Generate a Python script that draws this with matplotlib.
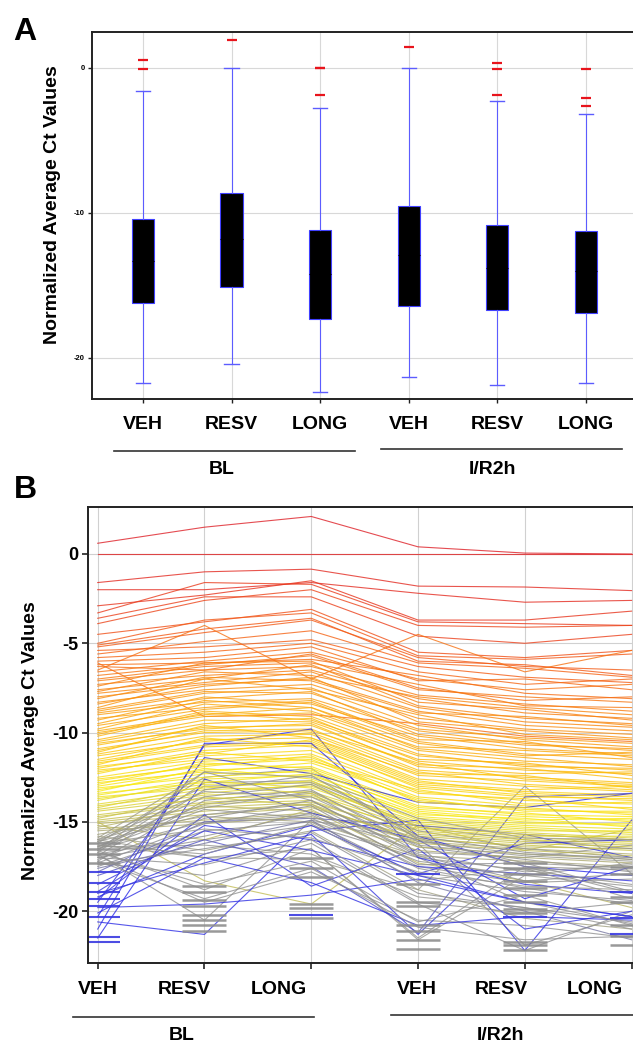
import matplotlib
matplotlib.use('Agg')
import matplotlib.pyplot as plt
from matplotlib.colors import LinearSegmentedColormap, Normalize
from matplotlib.lines import Line2D

plt.rcParams['font.family'] = ['Liberation Sans', 'DejaVu Sans']
plt.rcParams['font.weight'] = 'bold'

W, H = 633, 1044

# ---- data ----
groups = ['VEH', 'RESV', 'LONG', 'VEH', 'RESV', 'LONG']
conditions = ['BL', 'I/R2h']

# panel A box summaries
box_q3 = [-10.4, -8.6, -11.2, -9.5, -10.85, -11.25]
box_q1 = [-16.25, -15.1, -17.3, -16.4, -16.7, -16.9]
box_med = [-13.3, -11.8, -14.2, -12.9, -13.8, -14.0]
whisker_hi = [-1.6, 0.0, -2.75, 0.0, -2.25, -3.2]
whisker_lo = [-21.75, -20.4, -22.35, -21.3, -21.85, -21.75]
outliers = [[0.55, -0.05], [1.95], [0.0, -0.03, -1.9], [1.45],
            [0.35, -0.05, -1.85], [-0.05, -2.1, -2.6]]

# panel B, one row per gene: VEH, RESV, LONG (BL) then VEH, RESV, LONG (I/R2h)
gene_ct = [
    [0.6, 1.5, 2.1, 0.4, 0.05, 0.0],
    [0.0, 0.0, 0.0, 0.0, 0.0, 0.0],
    [-1.6, -1.0, -0.85, -1.8, -1.85, -2.05],
    [-2.0, -2.0, -1.6, -2.2, -2.7, -2.6],
    [-2.9, -2.3, -1.5, -3.7, -3.7, -3.2],
    [-3.3, -1.6, -1.7, -3.8, -3.9, -4.0],
    [-3.6, -2.4, -2.4, -4.6, -5.0, -4.5],
    [-3.9, -2.6, -2.0, -4.0, -4.1, -4.0],
    [-4.5, -3.8, -3.1, -5.5, -5.8, -5.4],
    [-5.0, -3.7, -3.3, -5.7, -5.9, -5.6],
    [-5.1, -4.2, -3.6, -6.0, -6.2, -6.8],
    [-5.2, -4.4, -3.7, -5.8, -6.3, -6.5],
    [-5.6, -4.9, -4.3, -6.1, -6.4, -6.9],
    [-6.1, -9.1, -9.0, -9.5, -10.2, -10.5],
    [-6.5, -4.0, -7.0, -4.5, -6.6, -5.4],
    [-6.3, -6.5, -5.6, -7.5, -8.2, -8.0],
    [-6.6, -6.0, -5.5, -7.0, -7.6, -7.3],
    [-7.0, -6.3, -6.1, -7.3, -8.5, -8.6],
    [-7.3, -6.8, -6.5, -8.1, -8.9, -9.2],
    [-7.6, -7.0, -6.2, -8.5, -9.2, -9.5],
    [-7.7, -6.6, -6.8, -8.0, -8.6, -9.0],
    [-8.0, -7.3, -7.0, -8.8, -9.6, -9.9],
    [-8.3, -7.6, -7.3, -9.2, -9.8, -10.1],
    [-8.6, -7.0, -7.6, -9.0, -10.1, -10.4],
    [-8.8, -7.8, -7.5, -9.6, -10.4, -10.8],
    [-9.0, -8.3, -8.1, -9.9, -10.6, -11.0],
    [-9.3, -8.0, -8.4, -10.2, -10.9, -11.2],
    [-9.6, -8.7, -8.3, -10.5, -11.2, -11.5],
    [-9.8, -8.4, -8.8, -10.8, -11.0, -11.3],
    [-10.0, -9.1, -8.9, -11.0, -11.6, -11.8],
    [-10.2, -8.9, -9.3, -11.3, -11.8, -12.1],
    [-10.5, -9.5, -9.2, -11.6, -12.1, -12.3],
    [-10.7, -9.7, -9.6, -11.8, -12.0, -12.6],
    [-11.0, -9.9, -9.8, -12.1, -12.5, -12.8],
    [-11.2, -10.2, -10.1, -12.4, -12.7, -13.0],
    [-11.5, -10.4, -10.3, -12.6, -13.0, -13.3],
    [-11.7, -10.8, -10.6, -12.9, -13.3, -13.5],
    [-12.0, -11.0, -10.7, -13.1, -13.6, -13.7],
    [-12.2, -11.3, -11.0, -13.3, -13.8, -14.0],
    [-12.5, -11.6, -11.4, -13.6, -14.1, -14.2],
    [-12.7, -11.8, -11.5, -13.8, -14.3, -14.5],
    [-13.0, -12.1, -11.9, -14.1, -14.6, -14.7],
    [-13.2, -12.3, -12.2, -14.3, -14.7, -14.9],
    [-13.5, -12.6, -12.4, -14.5, -15.0, -15.2],
    [-13.7, -12.9, -12.8, -14.8, -15.2, -15.4],
    [-14.0, -13.2, -13.0, -15.0, -15.4, -15.7],
    [-14.3, -13.5, -13.3, -15.2, -15.6, -15.9],
    [-14.6, -13.9, -13.6, -15.5, -15.9, -16.1],
    [-14.9, -14.2, -13.9, -15.7, -16.1, -16.3],
    [-15.1, -14.6, -14.2, -15.9, -16.4, -16.5],
    [-15.4, -14.9, -14.5, -16.1, -16.5, -16.8],
    [-15.0, -18.3, -19.6, -15.2, -16.6, -15.4],
    [-16.0, -13.0, -12.8, -15.5, -16.5, -17.0],
    [-16.2, -12.5, -12.0, -16.0, -17.3, -17.6],
    [-16.4, -14.0, -13.4, -16.7, -17.0, -16.3],
    [-16.5, -15.0, -14.6, -17.5, -18.4, -18.2],
    [-16.6, -18.8, -16.5, -21.5, -17.5, -19.0],
    [-16.8, -20.5, -14.9, -16.2, -21.9, -20.2],
    [-17.0, -16.0, -15.2, -17.0, -19.5, -20.7],
    [-16.3, -17.0, -16.5, -21.6, -18.0, -17.3],
    [-16.9, -19.5, -17.8, -20.5, -20.8, -21.5],
    [-17.3, -18.0, -16.2, -19.6, -22.2, -20.0],
    [-15.8, -16.6, -15.5, -18.8, -20.4, -21.0],
    [-15.2, -16.0, -14.3, -17.3, -18.3, -19.8],
    [-16.0, -17.0, -17.1, -18.8, -13.0, -17.9],
    [-16.7, -12.8, -12.7, -15.3, -16.0, -16.5],
    [-17.2, -13.8, -13.2, -16.4, -17.1, -17.8],
    [-16.1, -14.6, -14.0, -17.0, -17.7, -18.5],
    [-17.5, -15.5, -15.0, -18.0, -18.9, -19.4],
    [-16.4, -16.3, -16.8, -19.2, -19.8, -21.0],
    [-19.5, -11.4, -12.3, -13.9, -14.2, -13.4],
    [-20.3, -10.7, -9.8, -17.0, -18.5, -19.0],
    [-21.0, -10.6, -10.6, -15.8, -17.5, -18.0],
    [-17.8, -15.0, -14.8, -15.2, -15.7, -16.0],
    [-18.5, -15.5, -16.6, -18.0, -19.5, -20.3],
    [-19.0, -17.3, -15.7, -21.3, -15.7, -17.0],
    [-19.3, -14.6, -18.6, -16.5, -21.0, -20.0],
    [-19.8, -19.6, -19.1, -18.2, -19.5, -20.3],
    [-20.6, -21.3, -15.5, -14.9, -22.2, -14.9],
    [-18.0, -16.0, -17.5, -21.2, -13.6, -13.4],
    [-18.9, -15.2, -16.0, -17.5, -17.9, -18.3],
    [-19.2, -16.8, -15.2, -17.9, -16.2, -16.0],
    [-20.1, -17.0, -18.4, -20.8, -20.3, -20.5],
    [-21.5, -12.6, -14.5, -16.0, -19.3, -17.5],
    [-5.4, -5.2, -4.8, -6.3, -6.9, -7.2],
    [-5.8, -5.5, -5.0, -6.6, -7.3, -7.0],
    [-6.0, -5.8, -5.2, -7.1, -7.0, -7.6],
    [-6.2, -6.1, -5.9, -6.8, -7.8, -8.1],
    [-6.8, -6.2, -5.7, -7.6, -8.0, -8.3],
    [-7.1, -6.5, -6.3, -7.9, -8.4, -8.8],
    [-7.4, -6.1, -6.0, -8.3, -8.7, -9.3],
    [-7.8, -7.2, -6.6, -8.6, -9.4, -9.7],
    [-8.1, -6.9, -7.1, -8.9, -9.1, -9.6],
    [-8.4, -7.4, -6.9, -9.4, -9.9, -10.3],
    [-8.7, -7.7, -7.8, -9.8, -10.3, -10.6],
    [-8.9, -8.1, -7.7, -10.1, -10.7, -10.9],
    [-9.2, -8.6, -8.2, -10.4, -10.5, -11.4],
    [-9.5, -8.2, -8.6, -10.6, -11.3, -11.1],
    [-9.9, -9.0, -8.6, -10.9, -11.4, -11.9],
    [-10.1, -8.8, -9.1, -11.2, -11.9, -12.0],
    [-10.4, -9.3, -9.4, -11.5, -11.7, -12.4],
    [-10.6, -9.8, -9.5, -11.9, -12.3, -12.2],
    [-10.9, -10.0, -9.9, -11.7, -12.6, -12.9],
    [-11.1, -9.6, -10.3, -12.3, -12.4, -13.1],
    [-11.3, -10.5, -10.0, -12.2, -12.9, -13.2],
    [-11.6, -10.7, -10.5, -12.8, -13.2, -13.0],
    [-11.8, -10.3, -10.8, -13.0, -13.5, -13.8],
    [-11.9, -11.2, -10.4, -12.7, -13.4, -13.6],
    [-12.1, -11.5, -11.2, -13.4, -13.7, -14.3],
    [-12.3, -11.1, -11.6, -13.2, -14.0, -13.9],
    [-12.6, -11.9, -11.3, -13.9, -14.2, -14.6],
    [-12.8, -12.2, -11.7, -13.7, -14.4, -14.4],
    [-12.9, -11.7, -12.0, -14.2, -14.5, -15.0],
    [-13.1, -12.5, -12.1, -14.4, -14.9, -14.8],
    [-13.3, -12.0, -12.6, -14.6, -14.8, -15.3],
    [-13.4, -12.8, -12.3, -14.7, -15.1, -15.1],
    [-13.6, -13.1, -12.7, -14.9, -15.3, -15.6],
    [-13.8, -12.7, -13.1, -15.1, -15.5, -15.5],
    [-14.1, -13.4, -12.9, -15.3, -15.7, -16.0],
    [-14.2, -13.0, -13.4, -15.4, -15.8, -15.8],
    [-14.4, -13.7, -13.5, -15.6, -16.0, -16.2],
    [-14.7, -14.0, -13.8, -15.8, -16.2, -16.4],
    [-14.8, -13.6, -14.1, -16.0, -16.3, -16.6],
    [-15.0, -14.4, -14.0, -16.2, -16.6, -16.9],
    [-15.3, -14.1, -14.4, -16.4, -16.8, -17.1],
    [-15.5, -15.1, -14.7, -16.6, -17.0, -17.3],
    [-15.7, -14.7, -15.0, -16.9, -17.2, -17.5],
    [-15.9, -12.2, -12.5, -14.8, -15.9, -16.0],
    [-16.1, -13.3, -13.6, -16.3, -16.9, -17.2],
    [-16.2, -15.4, -15.9, -17.8, -18.6, -18.8],
    [-16.3, -16.8, -15.1, -18.3, -17.6, -19.3],
    [-16.5, -14.3, -14.8, -17.2, -18.0, -18.6],
    [-16.6, -12.2, -13.8, -16.8, -17.8, -17.4],
    [-16.7, -18.5, -17.2, -20.6, -19.1, -20.8],
    [-16.8, -15.8, -14.5, -17.6, -18.7, -19.6],
    [-16.9, -13.2, -12.4, -15.8, -16.7, -17.1],
    [-17.0, -17.4, -16.0, -19.5, -20.1, -19.5],
    [-17.1, -14.8, -13.8, -16.9, -18.3, -17.9],
    [-17.2, -19.3, -17.6, -20.9, -21.6, -21.4],
    [-17.3, -15.1, -14.1, -17.4, -17.3, -18.9],
    [-17.4, -16.5, -15.6, -19.0, -19.8, -20.6],
    [-16.0, -14.2, -13.3, -16.1, -16.8, -17.0],
    [-16.4, -13.6, -12.9, -15.9, -17.5, -17.7],
    [-17.6, -16.2, -14.9, -18.4, -20.0, -21.6],
]

# short horizontal marks near the bottom of panel B (column index -> values)
dash_gray = {
    0: [-16.2, -16.5, -16.8, -17.3],
    1: [-18.6, -18.9, -19.4, -19.7, -20.2, -20.5, -20.8, -21.1],
    2: [-17.0, -17.6, -18.1, -19.6, -19.8, -20.4],
    3: [-18.5, -19.5, -19.7, -20.8, -21.1, -21.6, -22.1],
    4: [-17.3, -17.6, -17.9, -18.3, -18.7, -19.1, -19.5, -19.9, -20.1, -21.7, -21.9, -22.2],
    5: [-17.5, -17.9, -19.2, -19.5, -20.8, -21.4, -21.9],
}
dash_blue = {
    0: [-17.8, -18.4, -18.9, -19.3, -19.7, -20.3, -21.45, -21.7],
    2: [-20.2],
    3: [-17.9],
    4: [-20.3],
    5: [-18.9, -20.4, -21.3],
}

# ---- figure ----
fig = plt.figure(figsize=(W / 100, H / 100), dpi=100)


def fx(x):
    return x / W


def fy(y):
    return 1 - y / H


pos = [1, 2, 3, 4, 5, 6]
edge = '#222222'

# ---------- panel A ----------
axA = fig.add_axes([fx(92), fy(399), fx(545), (399 - 32) / H])
stats = []
for i in range(6):
    stats.append(dict(med=box_med[i], q1=box_q1[i], q3=box_q3[i],
                      whislo=whisker_lo[i], whishi=whisker_hi[i],
                      fliers=outliers[i]))
axA.bxp(stats, positions=pos, widths=0.25, capwidths=0.16, patch_artist=True,
        boxprops=dict(facecolor='black', edgecolor='#4040ff', linewidth=0.8),
        whiskerprops=dict(color='#5c5cff', linewidth=0.8),
        capprops=dict(color='#5c5cff', linewidth=1.0),
        medianprops=dict(color='black', linewidth=0.8),
        flierprops=dict(marker='_', markeredgecolor='#e8141c', markersize=7,
                        markeredgewidth=1.6))
axA.set_xlim(0.424, 6.58)
axA.set_ylim(-22.85, 2.48)
axA.set_yticks([0, -10, -20])
axA.set_yticklabels(['0', '-10', '-20'], fontsize=5.5, fontweight='bold')
axA.set_xticks(pos)
axA.set_xticklabels(groups, fontsize=14, fontweight='bold')
axA.tick_params(axis='x', length=3, width=1, pad=9, color=edge)
axA.tick_params(axis='y', length=3, width=1, pad=2, color=edge)
axA.grid(True, color='#d8d8d8', linewidth=0.8)
axA.set_axisbelow(True)
for s in ['top', 'left', 'bottom']:
    axA.spines[s].set_color(edge)
    axA.spines[s].set_linewidth(1.4)
axA.spines['right'].set_visible(False)
fig.text(fx(53), fy(205), 'Normalized Average Ct Values', rotation=90,
         ha='center', va='center', fontsize=14, fontweight='bold')

# ---------- panel B ----------
axB = fig.add_axes([fx(88), fy(963), fx(550), (963 - 507) / H])
ct_colors = LinearSegmentedColormap.from_list('ct', [
    (0.000, (0.15, 0.15, 0.92)),
    (0.154, (0.22, 0.22, 0.86)),
    (0.188, (0.55, 0.55, 0.57)),
    (0.250, (0.60, 0.60, 0.57)),
    (0.300, (0.80, 0.77, 0.28)),
    (0.362, (0.98, 0.92, 0.08)),
    (0.458, (0.99, 0.76, 0.05)),
    (0.562, (0.98, 0.58, 0.06)),
    (0.688, (0.96, 0.38, 0.08)),
    (0.812, (0.90, 0.18, 0.12)),
    (1.000, (0.86, 0.10, 0.16)),
])
norm = Normalize(vmin=-22, vmax=2)
for row in gene_ct:
    axB.plot(pos, row, color=ct_colors(norm(row[0])), linewidth=0.8, alpha=0.8)
for col, vals in dash_gray.items():
    axB.plot([pos[col]] * len(vals), vals, ls='none', marker='_', ms=31,
             mew=1.8, color='#8e8e8e', alpha=0.9)
for col, vals in dash_blue.items():
    axB.plot([pos[col]] * len(vals), vals, ls='none', marker='_', ms=31,
             mew=1.5, color='#3a3ae0', alpha=0.9)
axB.set_xlim(0.909, 6.06)
axB.set_ylim(-22.9, 2.63)
axB.set_yticks([0, -5, -10, -15, -20])
axB.set_yticklabels(['0', '-5', '-10', '-15', '-20'], fontsize=13, fontweight='bold')
axB.set_xticks(pos)
axB.set_xticklabels([])
axB.tick_params(axis='x', length=4, width=1.2, color=edge)
axB.tick_params(axis='y', length=4, width=1.2, pad=3, color=edge)
axB.grid(True, color='#d0d0d0', linewidth=0.8)
axB.set_axisbelow(True)
for s in ['top', 'left', 'bottom']:
    axB.spines[s].set_color(edge)
    axB.spines[s].set_linewidth(1.4)
axB.spines['right'].set_visible(False)
fig.text(fx(31), fy(741), 'Normalized Average Ct Values', rotation=90,
         ha='center', va='center', fontsize=14, fontweight='bold')
for lx, g in zip([98, 184, 279, 417, 501, 595], groups):
    fig.text(fx(lx), fy(989), g, ha='center', va='center', fontsize=14,
             fontweight='bold')

# ---------- group brackets and panel letters ----------
brackets = [
    (114, 355, 451, 222, 470), (381, 622, 449, 492, 470),
    (73, 314, 1017, 182, 1035), (391, 633, 1015, 501, 1035),
]
for k, (x0, x1, yl, xt, yt) in enumerate(brackets):
    fig.add_artist(Line2D([fx(x0), fx(x1)], [fy(yl), fy(yl)], color='#333333',
                          linewidth=1.2))
    fig.text(fx(xt), fy(yt), conditions[k % 2], ha='center', va='center',
             fontsize=14, fontweight='bold')

fig.text(fx(25), fy(32), 'A', ha='center', va='center', fontsize=23,
         fontweight='bold')
fig.text(fx(25), fy(490), 'B', ha='center', va='center', fontsize=23,
         fontweight='bold')

fig.savefig('out.png', dpi=100)
